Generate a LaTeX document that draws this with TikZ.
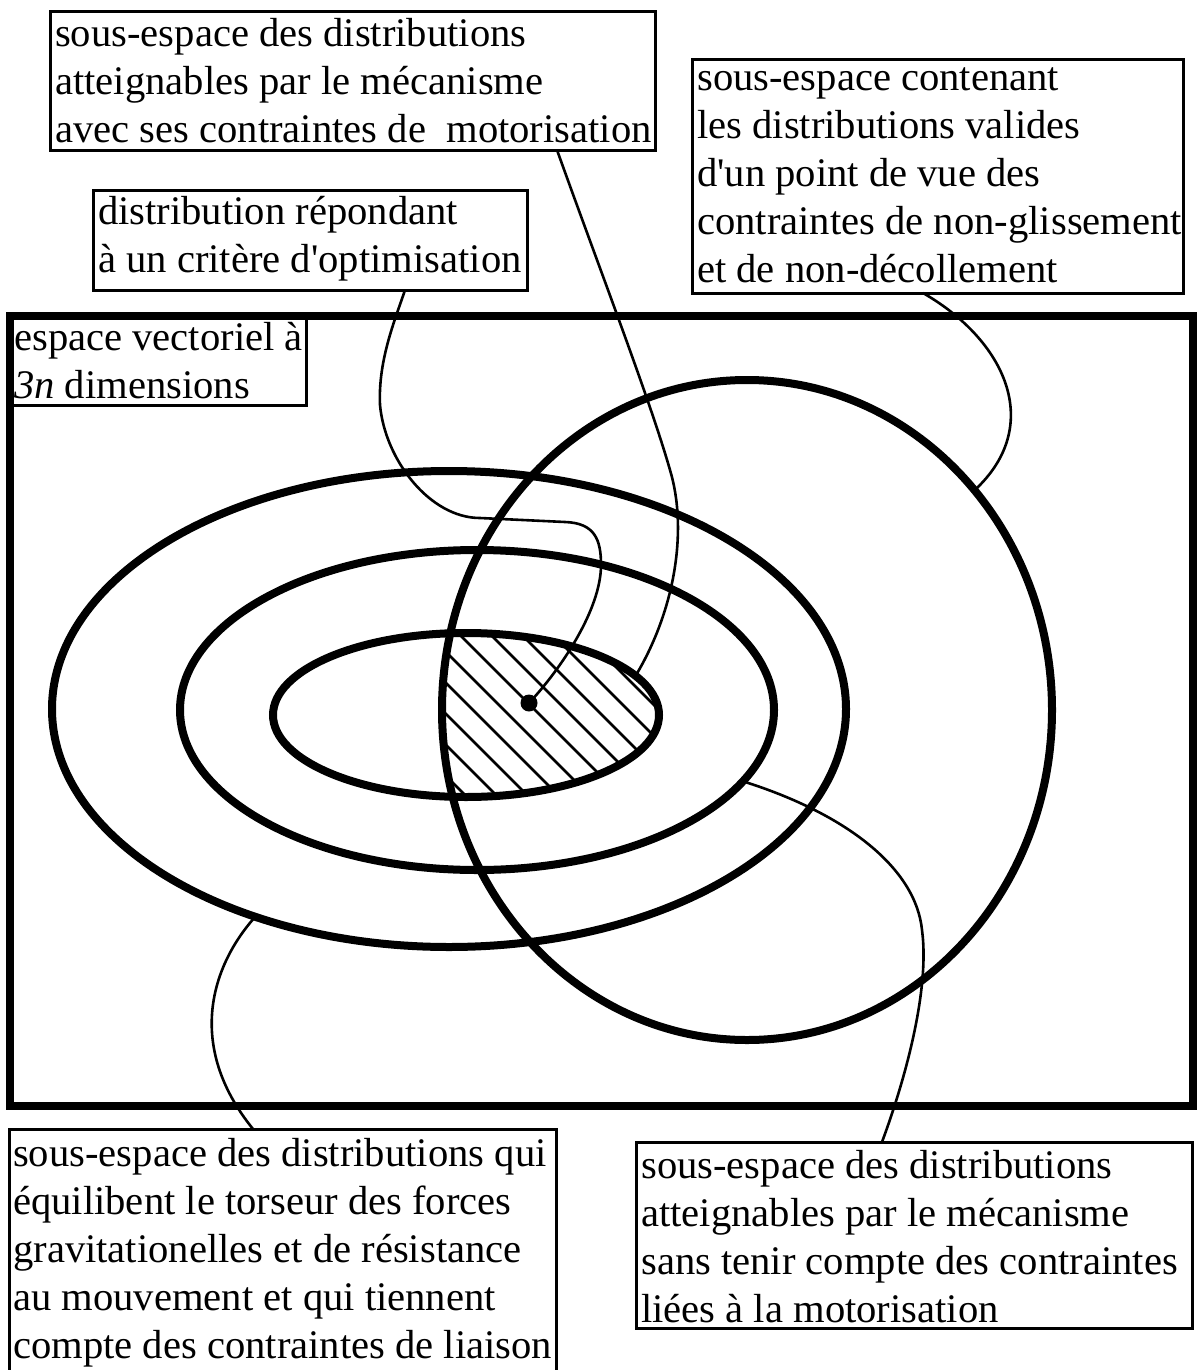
\documentclass[tikz,border=0pt]{standalone}
\usepackage{fontspec}
\setmainfont{Liberation Serif}[Ligatures=TeXOff]
\usetikzlibrary{shapes.geometric,calc}
\newcommand\lns[1]{\vtop{\baselineskip=48pt\lineskiplimit=-1000pt\lineskip=0pt\halign{##\hfil\cr#1\crcr}}}
\begin{document}
\begin{tikzpicture}[x=1pt,y=-1pt,
  bigline/.style={line width=8pt},
  thinline/.style={line width=2.6pt},
  hatchline/.style={line width=2.6pt},
  labelbox/.style={draw, line width=3pt, inner sep=0pt, outer sep=0pt, anchor=north west},
  ring/.style={ellipse, draw, line width=8pt, inner sep=0pt, outer sep=0pt},
  txt/.style={anchor=base west, inner sep=0pt, font=\fontsize{40.6pt}{48pt}\selectfont}]
\useasboundingbox (0,0) rectangle (1202,1370);
% hatched intersection
\begin{scope}
  \clip (466,715) ellipse [x radius=193pt, y radius=82pt];
  \clip (747,710) ellipse [x radius=305pt, y radius=330pt];
  \foreach \k in {-7,...,6} { \draw[hatchline] (300,{475+31*\k}) -- (800,{975+31*\k}); }
\end{scope}
% frame
\node[labelbox, line width=8pt, minimum width=1183pt, minimum height=790pt] (frame) at (10,316) {};
% ellipses
\node[ring, minimum width=794pt, minimum height=476pt] (outer) at (449,709) {};
\node[ring, minimum width=594pt, minimum height=320pt] (middle) at (477,710) {};
\node[ring, minimum width=386pt, minimum height=164pt] (inner) at (466,715) {};
\node[ring, minimum width=610pt, minimum height=660pt] (valid) at (747,710) {};
% dot
\node[circle, fill, inner sep=0pt, minimum size=17pt] (dot) at (529,703) {};
% boxes
\node[labelbox, minimum width=605pt, minimum height=138pt] (A) at (50,12) {};
\node[labelbox, minimum width=434pt, minimum height=100pt] (B) at (93,190) {};
\node[labelbox, minimum width=491pt, minimum height=233pt] (C) at (692,60) {};
\node[labelbox, minimum width=296pt, minimum height=89pt] (D) at (10,316) {};
\node[labelbox, minimum width=547pt, minimum height=242pt] (E) at (9,1129) {};
\node[labelbox, minimum width=556pt, minimum height=186pt] (F) at (636,1142) {};
% texts
\node[txt] (tA) at (55,47) {\lns{sous-espace des distributions\cr atteignables par le mécanisme\cr avec ses contraintes de\ \ motorisation}};
\node[txt] (tB) at (98,224) {\lns{distribution répondant\cr à un critère d'optimisation}};
\node[txt] (tC) at (697,91) {\lns{sous-espace contenant\cr les distributions valides\cr d'un point de vue des\cr contraintes de non-glissement\cr et de non-décollement}};
\node[txt] (tD) at (14,350) {\lns{espace vectoriel à\cr \textit{3n} dimensions}};
\node[txt] (tE) at (13,1166) {\lns{sous-espace des distributions qui\cr équilibent le torseur des forces\cr gravitationelles et de résistance\cr au mouvement et qui tiennent\cr compte des contraintes de liaison}};
\node[txt] (tF) at (641,1178) {\lns{sous-espace des distributions\cr atteignables par le mécanisme\cr sans tenir compte des contraintes\cr liées à la motorisation}};
% connector anchors
\coordinate (c1) at ($(B.south west)+(312,0)$);
\coordinate (c2) at ($(A.south west)+(507,0)$);
\coordinate (c3) at ($(C.south west)+(231,0)$);
\coordinate (c4) at ($(E.north west)+(244,0)$);
\coordinate (c5) at ($(F.north west)+(246,0)$);
% connectors
\draw[thinline] (c1) .. controls (395,320) and (378,360) .. (380,405)
  .. controls (385,460) and (430,518) .. (480,518) -- (565,522)
  .. controls (595,523) and (601,540) .. (601,565)
  .. controls (601,610) and (560,670) .. (dot.center);
\draw[thinline] (c2) .. controls (600,270) and (650,400) .. (670,470)
  .. controls (688,530) and (675,610) .. (inner.13.2);
\draw[thinline] (c3) .. controls (1005,340) and (1045,425) .. (valid.44.6);
\draw[thinline] (c4) .. controls (185,1045) and (212,965) .. (outer.227.9);
\draw[thinline] (c5) .. controls (905,1080) and (930,990) .. (922,930)
  .. controls (916,870) and (850,815) .. (middle.-15);
\end{tikzpicture}
\end{document}
